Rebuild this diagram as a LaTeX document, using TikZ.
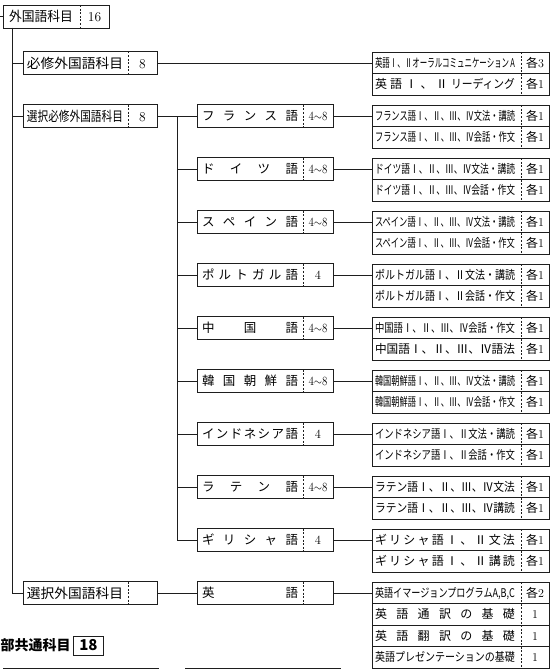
\documentclass[tikz,border=0pt]{standalone}
\usepackage{fontspec}
\newfontfamily\jp{Noto Sans CJK JP}
\usepackage{graphicx}
\usetikzlibrary{positioning,calc}
\definecolor{ink}{HTML}{1E1E1E}

% squeeze a text to a width, keep its height
\newcommand\fitw[2]{\resizebox{#1}{\height}{#2}}
% spread the characters of a text over a width
\def\kintostopdef{\kintostop}
\def\kintoloop#1{\def\kintotmp{#1}\ifx\kintotmp\kintostopdef\else#1\hfill\expandafter\kintoloop\fi}
\newcommand\kinto[2]{\makebox[#1][s]{\expandafter\kintoloop#2\kintostop\unskip}}
% label | value, split at the dashed line
\newcommand\naka[5][4pt]{\makebox[#2][l]{\hspace*{#1}#4}\makebox[\dimexpr#3-#2\relax]{#5}}
\newcommand\migi[2]{\naka[3pt]{149pt}{177pt}{\jp #1}{#2}}
\newcommand\kaku[1]{{\jp 各}#1}
\newcommand\kara{\fitw{19pt}{4$\sim$8}}

\begin{document}
\begin{tikzpicture}[x=1pt, y=-1pt,
    sen/.style={draw=ink, line width=0.9pt},
    waku/.style={draw=ink, line width=0.9pt, inner sep=0pt, outer sep=0pt},
    kugiri/.style={path picture={\draw[ink, line width=0.7pt, dash pattern=on 2pt off 1.6pt]
        ([xshift=#1]path picture bounding box.north west) -- ([xshift=#1]path picture bounding box.south west);}},
    ookiji/.style={font=\fontsize{13.5}{16}\selectfont, text height=11.9pt, text depth=1.9pt},
    oya/.style={waku, ookiji, minimum width=134pt, minimum height=23pt, kugiri=105pt},
    gengo/.style={waku, minimum width=136pt, minimum height=22.5pt, kugiri=106pt,
        font=\fontsize{12.5}{15}\selectfont, text height=11pt, text depth=1.8pt},
    gyou/.style={waku, minimum width=177pt, minimum height=21.5pt, kugiri=149pt,
        font=\fontsize{12}{14}\selectfont, text height=10.6pt, text depth=1.7pt},
    midashi/.style={font=\jp\bfseries\fontsize{14}{17}\selectfont, inner sep=0pt}]
  \useasboundingbox (0,0) rectangle (551,669);

  % left column
  \coordinate (hajime) at (0,16.5);
  \node[waku, ookiji, minimum width=106pt, minimum height=23pt, kugiri=77pt, anchor=west]
        (gaikoku) at (3,16.5) {\naka[6pt]{77pt}{106pt}{\jp\fitw{64pt}{外国語科目}}{16}};
  \node[oya, anchor=west] (hisshu) at (23,63) {\naka{105pt}{134pt}{\jp\fitw{96pt}{必修外国語科目}}{8}};
  \node[oya, anchor=west] (senhi) at (23,116) {\naka{105pt}{134pt}{\jp\fitw{96pt}{選択必修外国語科目}}{8}};
  \node[oya, anchor=west] (sengai) at (23,593) {\naka{105pt}{134pt}{\jp\fitw{96pt}{選択外国語科目}}{}};

  % languages
  \foreach \n/\k/\lab/\val in {fr/0/{フ ラ ン ス 語}/\kara, de/1/{ド イ ツ 語}/\kara,
      es/2/{ス ペ イ ン 語}/\kara, pt/3/{ポ ル ト ガ ル 語}/4, zh/4/{中 国 語}/\kara,
      ko/5/{韓 国 朝 鮮 語}/\kara, id/6/{イ ン ド ネ シ ア 語}/4, la/7/{ラ テ ン 語}/\kara,
      el/8/{ギ リ シ ャ 語}/4, en/9/{英 語}/{}}
    \node[gengo, anchor=west] (\n) at (197,116+53*\k) {\naka[5pt]{106pt}{136pt}{\jp\kinto{96pt}{\lab}}{\val}};

  % subjects
  \node[gyou, right=215pt of hisshu] (hisshu1) {\migi{\fitw{140pt}{英語Ⅰ、Ⅱオーラルコミュニケーション\,A}}{\kaku3}};
  \node[gyou, below=0pt of hisshu1] (hisshu2) {\migi{\kinto{140pt}{英 語 Ⅰ 、 Ⅱ {\fitw{64pt}{リーディング}}}}{\kaku1}};
  \foreach \n/\jo/\ge in {fr/{フランス語Ⅰ、Ⅱ、Ⅲ、Ⅳ文法・講読}/{フランス語Ⅰ、Ⅱ、Ⅲ、Ⅳ会話・作文},
      de/{ドイツ語Ⅰ、Ⅱ、Ⅲ、Ⅳ文法・講読}/{ドイツ語Ⅰ、Ⅱ、Ⅲ、Ⅳ会話・作文},
      es/{スペイン語Ⅰ、Ⅱ、Ⅲ、Ⅳ文法・講読}/{スペイン語Ⅰ、Ⅱ、Ⅲ、Ⅳ会話・作文},
      pt/{ポルトガル語Ⅰ、Ⅱ文法・講読}/{ポルトガル語Ⅰ、Ⅱ会話・作文},
      zh/{中国語Ⅰ、Ⅱ、Ⅲ、Ⅳ会話・作文}/{中国語Ⅰ、Ⅱ、Ⅲ、Ⅳ語法},
      ko/{韓国朝鮮語Ⅰ、Ⅱ、Ⅲ、Ⅳ文法・講読}/{韓国朝鮮語Ⅰ、Ⅱ、Ⅲ、Ⅳ会話・作文},
      id/{インドネシア語Ⅰ、Ⅱ文法・講読}/{インドネシア語Ⅰ、Ⅱ会話・作文},
      la/{ラテン語Ⅰ、Ⅱ、Ⅲ、Ⅳ文法}/{ラテン語Ⅰ、Ⅱ、Ⅲ、Ⅳ講読}} {
    \node[gyou, right=39pt of \n] (\n1) {\migi{\fitw{140pt}{\jo}}{\kaku1}};
    \node[gyou, below=0pt of \n1] (\n2) {\migi{\fitw{140pt}{\ge}}{\kaku1}};
  }
  \node[gyou, right=39pt of el] (el1) {\migi{\kinto{140pt}{ギ リ シ ャ 語 Ⅰ 、 Ⅱ 文 法}}{\kaku1}};
  \node[gyou, below=0pt of el1] (el2) {\migi{\kinto{140pt}{ギ リ シ ャ 語 Ⅰ 、 Ⅱ 講 読}}{\kaku1}};
  \node[gyou, right=39pt of en] (en1) {\migi{\fitw{140pt}{英語イマージョンプログラムA,B,C}}{\kaku2}};
  \node[gyou, below=0pt of en1] (en2) {\migi{\kinto{140pt}{英 語 通 訳 の 基 礎}}{1}};
  \node[gyou, below=0pt of en2] (en3) {\migi{\kinto{140pt}{英 語 翻 訳 の 基 礎}}{1}};
  \node[gyou, below=0pt of en3] (en4) {\migi{\fitw{140pt}{英語プレゼンテーションの基礎}}{1}};

  % connectors
  \draw[sen] (hajime) -- (gaikoku.west);
  \foreach \n in {hisshu,senhi,sengai}
    \draw[sen] ([xshift=9pt]gaikoku.south west) |- (\n.west);
  \draw[sen] (hisshu.east) -- (hisshu1.west);
  \draw[sen] (senhi.east) -- (fr.west);
  \coordinate (bunki) at ($(senhi.east)!.5!(fr.west)$);
  \foreach \n in {de,es,pt,zh,ko,id,la,el}
    \draw[sen] (bunki) |- (\n.west);
  \draw[sen] (sengai.east) -- (en.west);
  \foreach \n in {fr,de,es,pt,zh,ko,id,la,el,en}
    \draw[sen] (\n.east) -- (\n1.west);

  % next section, cut off by the page
  \node[midashi, anchor=west] (kyoutsuu) at (0.5,645.5) {部共通科目};
  \node[waku, right=2.5pt of kyoutsuu, minimum width=30pt, minimum height=19pt,
        font=\jp\bfseries\fontsize{15}{18}\selectfont] (juhachi) {18};
  \node[waku, minimum width=155pt, minimum height=23pt, kugiri=126pt, anchor=north west] (kasoA) at (3,668) {};
  \node[waku, minimum width=155pt, minimum height=23pt, kugiri=124pt, anchor=north west] (kasoB) at (185,668) {};
\end{tikzpicture}
\end{document}
